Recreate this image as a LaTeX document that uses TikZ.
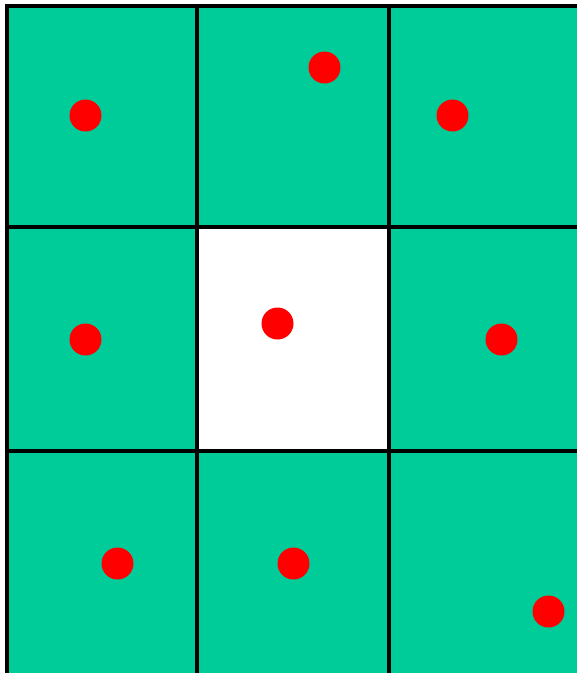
\documentclass[tikz,border=0pt]{standalone}
\definecolor{teal1}{HTML}{00CC99}
\definecolor{red1}{HTML}{FF0000}
\tikzset{cellbox/.style={fill=teal1,draw=black,line width=4pt},
  whitebox/.style={fill=white,draw=black,line width=4pt},
  dot/.style={circle,fill=red1,inner sep=0pt,minimum size=32pt}}
\begin{document}
\begin{tikzpicture}[x=1pt,y=-1pt]
\useasboundingbox (0,0) rectangle (577,673);
\clip (0,0) rectangle (577,673);
\foreach \xa/\xb in {6.5/197,197/389,389/581}{
  \foreach \ya/\yb in {5.5/227,227/451,451/675}{
    \draw[cellbox] (\xa,\ya) rectangle (\xb,\yb);
  }
}
\draw[whitebox] (197,227) rectangle (389,451);
\node[dot] (d1) at (85.5,115.5) {};
\node[dot] (d2) at (324.5,67.5) {};
\node[dot] (d3) at (452.5,115.5) {};
\node[dot] (d4) at (85.5,339.5) {};
\node[dot] (d5) at (277.5,323.5) {};
\node[dot] (d6) at (501.5,339.5) {};
\node[dot] (d7) at (117.5,563.5) {};
\node[dot] (d8) at (293.5,563.5) {};
\node[dot] (d9) at (548.5,611.5) {};
\end{tikzpicture}
\end{document}
